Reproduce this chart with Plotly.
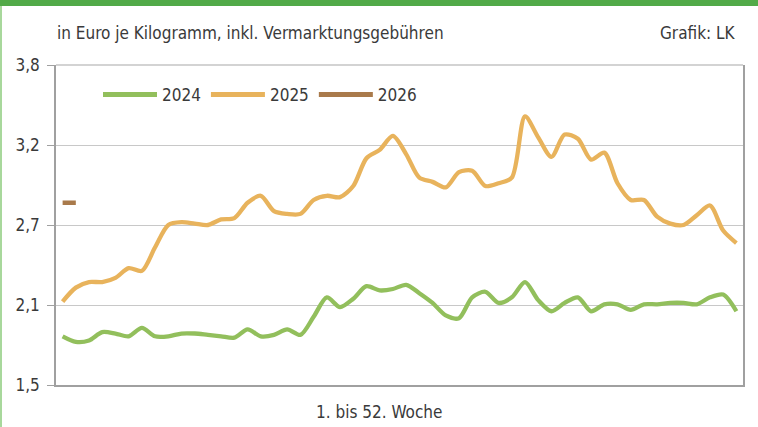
import plotly.graph_objects as go

weeks = list(range(1, 53))

v2024 = [1.85, 1.81, 1.82, 1.88, 1.87, 1.85, 1.91, 1.85, 1.85, 1.87,
         1.87, 1.86, 1.85, 1.84, 1.90, 1.85, 1.86, 1.90, 1.86, 1.99,
         2.13, 2.06, 2.12, 2.21, 2.18, 2.19, 2.22, 2.16, 2.09, 2.00,
         1.98, 2.13, 2.17, 2.09, 2.13, 2.24, 2.11, 2.03, 2.09, 2.13,
         2.03, 2.08, 2.08, 2.04, 2.08, 2.08, 2.09, 2.09, 2.08, 2.13,
         2.15, 2.03]

v2025 = [2.10, 2.20, 2.24, 2.24, 2.27, 2.34, 2.32, 2.49, 2.65, 2.67,
         2.66, 2.65, 2.69, 2.70, 2.81, 2.86, 2.75, 2.73, 2.73, 2.83,
         2.86, 2.85, 2.93, 3.13, 3.19, 3.29, 3.16, 2.99, 2.96, 2.92,
         3.03, 3.04, 2.93, 2.95, 2.99, 3.43, 3.28, 3.14, 3.30, 3.27,
         3.12, 3.17, 2.95, 2.83, 2.83, 2.71, 2.66, 2.65, 2.72, 2.79,
         2.61, 2.52]

weeks2026 = [1, 2]
v2026 = [2.81, 2.81]

tick_vals = [1.5, 2.075, 2.65, 3.225, 3.8]
tick_text = ["1,5", "2,1", "2,7", "3,2", "3,8"]

FONT = "Liberation Sans Narrow, DejaVu Sans Condensed, Arial Narrow, sans-serif"
TXT = "#3a3a3a"

fig = go.Figure()
fig.add_trace(go.Scatter(x=weeks, y=v2024, name="2024", mode="lines",
                         line=dict(color="#92BF5C", width=4.3, shape="spline", smoothing=0.8)))
fig.add_trace(go.Scatter(x=weeks, y=v2025, name="2025", mode="lines",
                         line=dict(color="#E8B35C", width=4.3, shape="spline", smoothing=0.8)))
fig.add_trace(go.Scatter(x=weeks2026, y=v2026, name="2026", mode="lines",
                         line=dict(color="#A97A4B", width=4.5, shape="spline")))

W, H = 758, 427
L, R, T, B = 56, 15, 65, 42
pw, ph = W - L - R, H - T - B

def px(xpix):
    return (xpix - L) / pw

def py(ypix):
    return 1 - (ypix - T) / ph

shapes = [
    dict(type="rect", xref="paper", yref="paper", x0=px(0), x1=px(W), y0=py(6), y1=py(0),
         fillcolor="#52AA48", line=dict(width=0), layer="above"),
    dict(type="rect", xref="paper", yref="paper", x0=px(0), x1=px(2), y0=py(H), y1=py(6),
         fillcolor="#A8D89C", line=dict(width=0), layer="above"),
    dict(type="line", xref="paper", yref="paper", x0=0, x1=1, y0=1, y1=1,
         line=dict(color="#C4C4C4", width=1.3), layer="below"),
]

annotations = [
    dict(text="in Euro je Kilogramm, inkl. Vermarktungsgebühren", xref="paper", yref="paper",
         x=px(55), y=py(33), xanchor="left", yanchor="middle", showarrow=False,
         font=dict(family=FONT, size=17, color=TXT)),
    dict(text="Grafik: LK", xref="paper", yref="paper",
         x=px(738), y=py(33), xanchor="right", yanchor="middle", showarrow=False,
         font=dict(family=FONT, size=17, color=TXT)),
    dict(text="1. bis 52. Woche", xref="paper", yref="paper",
         x=px(W / 2), y=py(412), xanchor="center", yanchor="middle", showarrow=False,
         font=dict(family=FONT, size=17, color=TXT)),
]

fig.update_layout(
    width=W, height=H,
    margin=dict(l=L, r=R, t=T, b=B),
    paper_bgcolor="white", plot_bgcolor="white",
    font=dict(family=FONT, size=17, color=TXT),
    showlegend=True,
    legend=dict(orientation="h", x=px(98), y=py(95), xanchor="left", yanchor="middle",
                itemwidth=54, font=dict(family=FONT, size=17, color=TXT),
                bgcolor="rgba(0,0,0,0)", tracegroupgap=0, itemsizing="constant"),
    shapes=shapes,
    annotations=annotations,
    xaxis=dict(range=[0.5, 52.5], showticklabels=False, showgrid=False, zeroline=False,
               showline=True, linecolor="#A0A0A0", linewidth=1.5, ticks="", fixedrange=True),
    yaxis=dict(range=[1.5, 3.8], tickvals=tick_vals, ticktext=tick_text,
               showgrid=True, gridcolor="#C8C8C8", gridwidth=1.3, zeroline=False,
               showline=True, mirror=True, linecolor="#A0A0A0", linewidth=1.5,
               ticks="outside", ticklen=7, tickcolor="#A0A0A0", tickwidth=1.3,
               ticklabelstandoff=4, tickfont=dict(family=FONT, size=17, color=TXT)),
)

fig.write_html(
    "out.html",
    config={"displayModeBar": False},
    post_script="document.body.style.margin='0';document.body.style.padding='0';"
                "document.documentElement.style.overflow='hidden';",
)
